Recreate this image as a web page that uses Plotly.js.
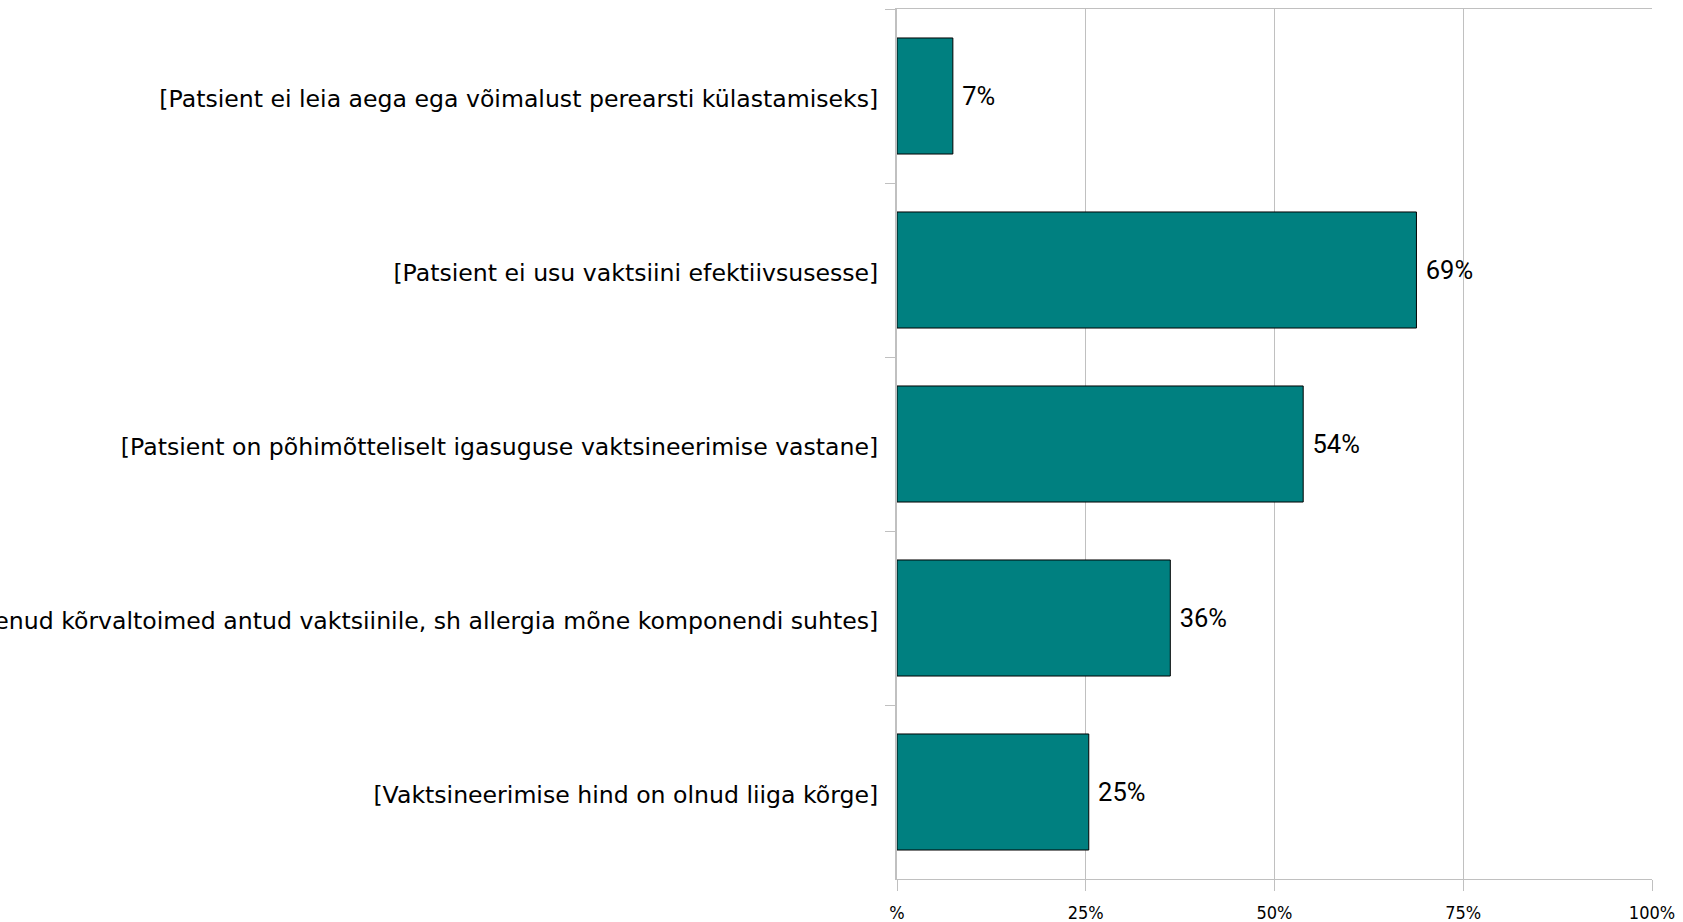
<!DOCTYPE html>
<html>
<head>
<meta charset="utf-8">
<script src="https://cdn.plot.ly/plotly-3.0.1.min.js"></script>
<style>html,body{margin:0;padding:0;background:#fff;overflow:hidden}</style>
</head>
<body>
<div id="chart" style="width:1683px;height:922px"></div>
<script>
const categories = [
  "[Patsient ei leia aega ega võimalust perearsti külastamiseks]",
  "[Patsient ei usu vaktsiini efektiivsusesse]",
  "[Patsient on põhimõtteliselt igasuguse vaktsineerimise vastane]",
  "[Patsiendil on varem esinenud kõrvaltoimed antud vaktsiinile, sh allergia mõne komponendi suhtes]",
  "[Vaktsineerimise hind on olnud liiga kõrge]"
];
const values = [7.4, 68.8, 53.8, 36.2, 25.4];
const valueLabels = ["7%", "69%", "54%", "36%", "25%"];
const tickValues = [0, 25, 50, 75, 100];
const tickLabels = ["%", "25%", "50%", "75%", "100%"];

const trace = {
  type: 'bar',
  orientation: 'h',
  y: categories,
  x: values,
  text: valueLabels.map(t => '\u00a0' + t),
  textposition: 'outside',
  constraintext: 'none',
  cliponaxis: false,
  textfont: {family: 'Roboto, "DejaVu Sans Condensed", sans-serif', size: 25.5, color: '#000'},
  marker: {color: '#008080', line: {color: '#000', width: 1}},
  hoverinfo: 'none'
};

const layout = {
  width: 1683,
  height: 922,
  margin: {l: 897, r: 31, t: 9, b: 43, pad: 0},
  paper_bgcolor: '#fff',
  plot_bgcolor: '#fff',
  showlegend: false,
  bargap: 0.333,
  font: {family: '"DejaVu Sans", sans-serif', color: '#000'},
  xaxis: {
    range: [0, 100],
    tickvals: tickValues,
    ticktext: tickLabels,
    showgrid: true,
    gridcolor: '#c0c0c0',
    gridwidth: 1,
    showline: true,
    linecolor: '#c0c0c0',
    linewidth: 1,
    mirror: true,
    ticks: 'outside',
    ticklen: 11,
    tickcolor: '#c0c0c0',
    ticklabelstandoff: 6,
    tickfont: {family: '"DejaVu Sans Condensed", sans-serif', size: 18, color: '#000'},
    zeroline: false,
    fixedrange: true
  },
  yaxis: {
    type: 'category',
    autorange: 'reversed',
    showgrid: false,
    showline: true,
    linecolor: '#c0c0c0',
    linewidth: 2,
    ticks: 'outside',
    tickson: 'boundaries',
    ticklen: 10,
    tickcolor: '#c0c0c0',
    ticklabelstandoff: 12,
    ticklabelshift: -3,
    tickfont: {family: '"DejaVu Sans", sans-serif', size: 23.6, color: '#000'},
    zeroline: false,
    fixedrange: true
  }
};

Plotly.newPlot('chart', [trace], layout, {staticPlot: true, displayModeBar: false});
</script>
</body>
</html>
